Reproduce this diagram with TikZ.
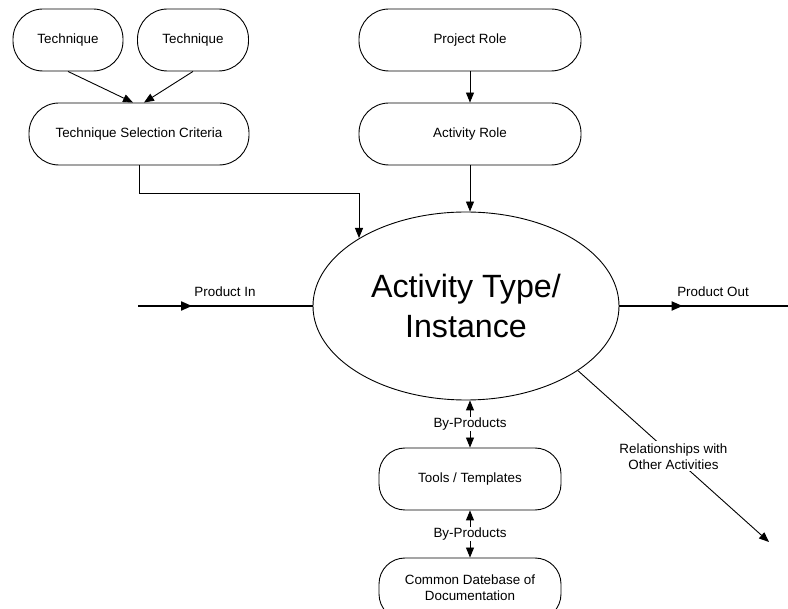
\documentclass[tikz,border=0pt]{standalone}
\usepackage{fontspec}
\setmainfont{Liberation Sans}
\usetikzlibrary{arrows.meta,shapes.geometric,decorations.markings}
\tikzset{
  pill/.style={draw, line width=0.9pt, rounded corners=30pt, align=center,
    minimum height=62pt, inner sep=2pt, font=\fontsize{13.4}{16}\selectfont},
  softbox/.style={draw, line width=0.9pt, rounded corners=26pt, align=center,
    minimum width=182pt, minimum height=62pt, inner sep=2pt, font=\fontsize{13.4}{16}\selectfont},
  lbl/.style={font=\fontsize{13.4}{16}\selectfont, align=center, inner sep=1pt},
  conn/.style={line width=0.9pt, -{Triangle[length=10pt,width=8pt]}},
  flow/.style={line width=1.8pt},
  midarrow/.style={postaction={decorate}, decoration={markings,
    mark=at position #1 with {\arrow{Triangle[length=11pt,width=9pt]}}}}
}
\begin{document}
\begin{tikzpicture}[x=1pt,y=-1pt]
\useasboundingbox (0,0) rectangle (788,609);
\begin{scope}
\clip (0,0) rectangle (788,609);

% upper boxes
\node[pill, minimum width=110pt] (t1)  at (68,40)  {Technique};
\node[pill, minimum width=111pt] (t2)  at (193,40) {Technique};
\node[pill, minimum width=220pt] (tsc) at (139,134) {Technique Selection Criteria};
\node[pill, minimum width=222pt] (pr)  at (470,40)  {Project Role};
\node[pill, minimum width=222pt] (ar)  at (470,134) {Activity Role};

% central activity
\node[draw, ellipse, line width=0.9pt, minimum width=306pt, minimum height=188pt,
      inner sep=0pt, align=center, font=\fontsize{32.2}{40}\selectfont]
      (act) at (466,306) {Activity Type/\\Instance};

% lower boxes
\node[softbox] (tools) at (470,479) {Tools / Templates};
\node[softbox] (cdb)   at (470,589) {\raisebox{3pt}{Common Datebase of}\\\raisebox{3pt}{Documentation}};

% connector labels and free ends
\node[lbl] (bp1) at (470,424) {By-Products};
\node[lbl] (bp2) at (470,534) {By-Products};
\coordinate (pin)   at (138,306);
\coordinate (pout)  at (788,306);
\coordinate (rel)   at (769,542);
\coordinate (tscin) at (359,238);
\node[lbl] at (225,292) {Product In};
\node[lbl] at (713,292) {Product Out};

% connectors
\draw[conn] (t1.south) -- ([xshift=-6pt]tsc.north);
\draw[conn] (t2.south) -- ([xshift=5pt]tsc.north);
\draw[conn] (pr) -- (ar);
\draw[conn] (ar.south) -- (act.north -| ar.south);
\draw[conn] (tsc.south) -- ++(0,28) -| (tscin);
\draw[flow, midarrow=0.31] (pin) -- (act.west);
\draw[flow, midarrow=0.375] (act.east) -- (pout);
\draw[conn] (act.-30) -- node[lbl, fill=white, pos=0.5, inner sep=2pt]
  {Relationships with\\Other Activities} (rel);
\draw[conn] (bp1) -- (act.south -| bp1);
\draw[conn] (bp1) -- (tools);
\draw[conn] (bp2) -- (tools);
\draw[conn] (bp2) -- (cdb);
\end{scope}
\end{tikzpicture}
\end{document}
